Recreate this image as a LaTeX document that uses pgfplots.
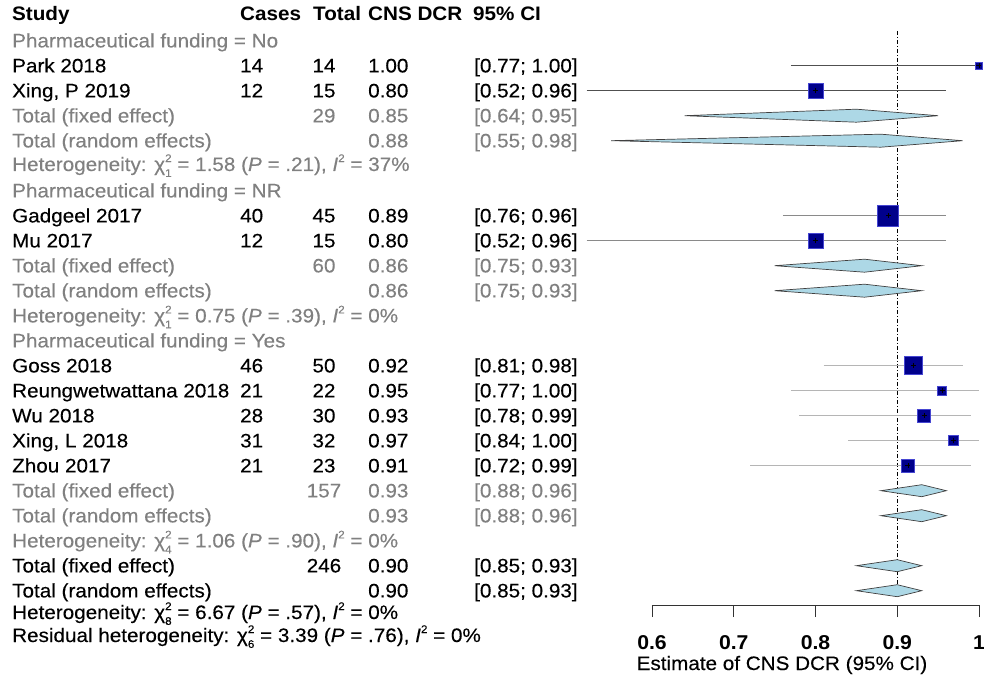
\documentclass[border=0pt]{standalone}
\usepackage{pgfplots}
\pgfplotsset{compat=1.18}
\usepackage{fontspec}
\setmainfont{Liberation Sans}[FakeStretch=1.06, UprightFeatures={FakeBold=0.25}, ItalicFeatures={FakeBold=0.25}]
\definecolor{sq}{RGB}{0,0,139}
\definecolor{sqb}{RGB}{70,70,210}
\definecolor{dia}{RGB}{173,216,230}
\definecolor{txg}{RGB}{128,128,128}
\definecolor{ciA}{RGB}{80,80,80}
\definecolor{ciB}{RGB}{138,138,138}
\definecolor{ciC}{RGB}{181,181,181}
\newcommand{\F}{\fontsize{19.5bp}{23bp}\selectfont}
\newcommand{\Fs}{\fontsize{11bp}{11bp}\selectfont}
\newcommand{\chisq}[1]{χ\makebox[0pt][l]{\raisebox{0.46em}{\Fs 2}}\raisebox{-0.3em}{\Fs #1}}
\newcommand{\Isq}{\textit{I}\raisebox{0.46em}{\Fs 2}}
% column positions (axis units: x = 0.6 + (px-652)/817.5)
\def\xS{-0.18287}
\def\xC{0.09602}
\def\xT{0.19878}
\def\xTh{0.18532}
\def\xE{0.25260}
\def\xI{0.38226}
\def\xIh{0.38104}
% #1 colour, #2 baseline y, #3 study, #4 cases, #5 total, #6 est, #7 ci
\newcommand{\trow}[7]{%
  \node[anchor=base west,inner sep=0pt,text=#1,font=\F] at (axis cs:\xS,#2) {#3};
  \node[anchor=base west,inner sep=0pt,text=#1,font=\F] at (axis cs:\xC,#2) {#4};
  \node[anchor=base,inner sep=0pt,text=#1,font=\F] at (axis cs:\xT,#2) {#5};
  \node[anchor=base west,inner sep=0pt,text=#1,font=\F] at (axis cs:\xE,#2) {#6};
  \node[anchor=base west,inner sep=0pt,text=#1,font=\F] at (axis cs:\xI,#2) {#7};
}
\newcommand{\tline}[3]{%
  \node[anchor=base west,inner sep=0pt,text=#1,font=\F] at (axis cs:\xS,#2) {#3};
}
\begin{document}
\begin{tikzpicture}
\useasboundingbox (-652bp,-74bp) rectangle (332bp,605bp);
\begin{axis}[
  at={(0,0)}, anchor=south west,
  scale only axis, width=327bp, height=605bp,
  xmin=0.6, xmax=1.0, ymin=-605, ymax=0,
  enlargelimits=false, clip=false,
  axis x line=bottom, axis y line=none,
  axis line style={black!80, line width=0.8bp, -},
  x axis line style={-},
  xtick={0.6,0.7,0.8,0.9,1.0},
  xticklabels={0.6,0.7,0.8,0.9,1},
  tick align=outside, major tick length=12bp,
  tick style={black!80, line width=0.8bp},
  xticklabel style={font=\fontsize{20bp}{22bp}\selectfont\bfseries, inner sep=0pt, anchor=base, yshift=-32bp},
  /pgf/number format/assume math mode=true,
]
% reference line
\addplot[black, line width=0.8bp, dash pattern=on 4bp off 2bp on 1bp off 2bp] coordinates {(0.9,-31) (0.9,-597)};

% confidence intervals
\addplot[ciA, line width=1bp] coordinates {(0.77,-65.7) (1.00,-65.7)};
\addplot[ciA, line width=1bp] coordinates {(0.52,-90.7) (0.96,-90.7)};
\addplot[ciB, line width=1bp] coordinates {(0.76,-215.7) (0.96,-215.7)};
\addplot[ciB, line width=1bp] coordinates {(0.52,-240.7) (0.96,-240.7)};
\addplot[ciC, line width=1.4bp] coordinates {(0.81,-365.7) (0.98,-365.7)};
\addplot[ciC, line width=1.4bp] coordinates {(0.77,-390.7) (1.00,-390.7)};
\addplot[ciC, line width=1.4bp] coordinates {(0.78,-415.7) (0.99,-415.7)};
\addplot[ciC, line width=1.4bp] coordinates {(0.84,-440.7) (1.00,-440.7)};
\addplot[ciC, line width=1.4bp] coordinates {(0.72,-465.7) (0.99,-465.7)};

% study squares
\addplot[only marks, mark=square*, mark size=3.5bp, mark options={fill=sq, draw=sqb, line width=0.6bp}] coordinates {(1.000,-65.7)};
\addplot[only marks, mark=square*, mark size=7.5bp, mark options={fill=sq, draw=sqb, line width=0.6bp}] coordinates {(0.800,-90.7)};
\addplot[only marks, mark=square*, mark size=10.5bp, mark options={fill=sq, draw=sqb, line width=0.6bp}] coordinates {(0.889,-215.7)};
\addplot[only marks, mark=square*, mark size=7.5bp, mark options={fill=sq, draw=sqb, line width=0.6bp}] coordinates {(0.800,-240.7)};
\addplot[only marks, mark=square*, mark size=9bp, mark options={fill=sq, draw=sqb, line width=0.6bp}] coordinates {(0.920,-365.7)};
\addplot[only marks, mark=square*, mark size=4.5bp, mark options={fill=sq, draw=sqb, line width=0.6bp}] coordinates {(0.955,-390.7)};
\addplot[only marks, mark=square*, mark size=6.5bp, mark options={fill=sq, draw=sqb, line width=0.6bp}] coordinates {(0.933,-415.7)};
\addplot[only marks, mark=square*, mark size=5bp, mark options={fill=sq, draw=sqb, line width=0.6bp}] coordinates {(0.969,-440.7)};
\addplot[only marks, mark=square*, mark size=6.5bp, mark options={fill=sq, draw=sqb, line width=0.6bp}] coordinates {(0.913,-465.7)};
% crosses inside squares
\addplot[only marks, mark=+, mark size=2.5bp, mark options={black, line width=0.6bp}] coordinates {
(1.000,-65.7) (0.800,-90.7) (0.889,-215.7) (0.800,-240.7) (0.920,-365.7)
(0.955,-390.7) (0.933,-415.7) (0.969,-440.7) (0.913,-465.7)};

% diamonds
\addplot[fill=dia, draw=black!75, line width=0.7bp] coordinates {(0.64,-115.7) (0.85,-109.2) (0.95,-115.7) (0.85,-122.2)} --cycle;
\addplot[fill=dia, draw=black!75, line width=0.7bp] coordinates {(0.55,-140.7) (0.88,-134.2) (0.98,-140.7) (0.88,-147.2)} --cycle;
\addplot[fill=dia, draw=black!75, line width=0.7bp] coordinates {(0.75,-265.7) (0.86,-259.2) (0.93,-265.7) (0.86,-272.2)} --cycle;
\addplot[fill=dia, draw=black!75, line width=0.7bp] coordinates {(0.75,-290.7) (0.86,-284.2) (0.93,-290.7) (0.86,-297.2)} --cycle;
\addplot[fill=dia, draw=black!75, line width=0.7bp] coordinates {(0.88,-490.7) (0.93,-484.7) (0.96,-490.7) (0.93,-496.7)} --cycle;
\addplot[fill=dia, draw=black!75, line width=0.7bp] coordinates {(0.88,-515.7) (0.93,-509.7) (0.96,-515.7) (0.93,-521.7)} --cycle;
\addplot[fill=dia, draw=black!75, line width=0.7bp] coordinates {(0.85,-565.7) (0.90,-559.7) (0.93,-565.7) (0.90,-571.7)} --cycle;
\addplot[fill=dia, draw=black!75, line width=0.7bp] coordinates {(0.85,-590.7) (0.90,-584.7) (0.93,-590.7) (0.90,-596.7)} --cycle;

% header
\node[anchor=base west,inner sep=0pt,font=\F\bfseries] at (axis cs:\xS,-20.5) {Study};
\node[anchor=base west,inner sep=0pt,font=\F\bfseries] at (axis cs:\xC,-20.5) {Cases};
\node[anchor=base west,inner sep=0pt,font=\F\bfseries] at (axis cs:\xTh,-20.5) {Total};
\node[anchor=base west,inner sep=0pt,font=\F\bfseries] at (axis cs:\xE,-20.5) {CNS DCR};
\node[anchor=base west,inner sep=0pt,font=\F\bfseries] at (axis cs:\xIh,-20.5) {95\% CI};

\tline{txg}{-47.4}{Pharmaceutical funding = No}
\trow{black}{-72.4}{Park 2018}{14}{14}{1.00}{[0.77; 1.00]}
\trow{black}{-97.4}{Xing, P 2019}{12}{15}{0.80}{[0.52; 0.96]}
\trow{txg}{-122.4}{Total (fixed effect)}{}{29}{0.85}{[0.64; 0.95]}
\trow{txg}{-147.4}{Total (random effects)}{}{}{0.88}{[0.55; 0.98]}
\tline{txg}{-171}{Heterogeneity: \chisq{1} = 1.58 (\textit{P} = .21), \Isq{} = 37\%}
\tline{txg}{-197.4}{Pharmaceutical funding = NR}
\trow{black}{-222.4}{Gadgeel 2017}{40}{45}{0.89}{[0.76; 0.96]}
\trow{black}{-247.4}{Mu 2017}{12}{15}{0.80}{[0.52; 0.96]}
\trow{txg}{-272.4}{Total (fixed effect)}{}{60}{0.86}{[0.75; 0.93]}
\trow{txg}{-297.4}{Total (random effects)}{}{}{0.86}{[0.75; 0.93]}
\tline{txg}{-322.4}{Heterogeneity: \chisq{1} = 0.75 (\textit{P} = .39), \Isq{} = 0\%}
\tline{txg}{-347.4}{Pharmaceutical funding = Yes}
\trow{black}{-372.4}{Goss 2018}{46}{50}{0.92}{[0.81; 0.98]}
\trow{black}{-397.4}{Reungwetwattana 2018}{21}{22}{0.95}{[0.77; 1.00]}
\trow{black}{-422.4}{Wu 2018}{28}{30}{0.93}{[0.78; 0.99]}
\trow{black}{-447.4}{Xing, L 2018}{31}{32}{0.97}{[0.84; 1.00]}
\trow{black}{-472.4}{Zhou 2017}{21}{23}{0.91}{[0.72; 0.99]}
\trow{txg}{-497.4}{Total (fixed effect)}{}{157}{0.93}{[0.88; 0.96]}
\trow{txg}{-522.4}{Total (random effects)}{}{}{0.93}{[0.88; 0.96]}
\tline{txg}{-547.4}{Heterogeneity: \chisq{4} = 1.06 (\textit{P} = .90), \Isq{} = 0\%}
\trow{black}{-572.4}{Total (fixed effect)}{}{246}{0.90}{[0.85; 0.93]}
\trow{black}{-597.4}{Total (random effects)}{}{}{0.90}{[0.85; 0.93]}
\tline{black}{-619}{Heterogeneity: \chisq{8} = 6.67 (\textit{P} = .57), \Isq{} = 0\%}
\tline{black}{-642}{Residual heterogeneity: \chisq{6} = 3.39 (\textit{P} = .76), \Isq{} = 0\%}

\node[anchor=base,inner sep=0pt,font=\F] at (axis cs:0.759,-670) {Estimate of CNS DCR (95\% CI)};
\end{axis}
\end{tikzpicture}
\end{document}
